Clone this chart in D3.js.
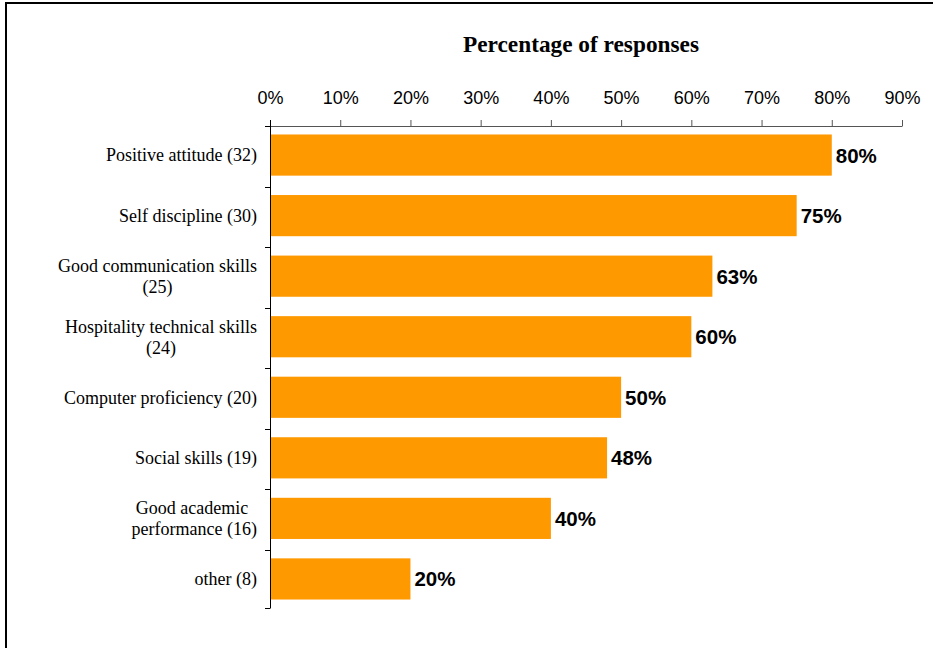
<!DOCTYPE html>
<html>
<head>
<meta charset="utf-8">
<script src="https://cdn.jsdelivr.net/npm/d3@7"></script>
<style>
  html, body { margin: 0; padding: 0; background: #fff; }
  svg { display: block; }
</style>
</head>
<body>
<svg id="chart" width="933" height="648"></svg>
<script>
// Survey categories (line breaks mark where the label wraps)
const categories = [
  "Positive attitude (32)",
  "Self discipline (30)",
  "Good communication skills\n(25)",
  "Hospitality technical skills\n(24)",
  "Computer proficiency (20)",
  "Social skills (19)",
  "Good academic \nperformance (16)",
  "other (8)"
];
// Share of responses, in percent
const values = [80, 75, 63, 60, 50, 48, 40, 20];
// Axis tick values, in percent
const tickValues = [0, 10, 20, 30, 40, 50, 60, 70, 80, 90];
const titleText = "Percentage of responses";

const data = categories.map((c, i) => ({ label: c, value: values[i] }));

const svg = d3.select("#chart");
const margin = { left: 270, top: 126 };
const plotW = 902 - margin.left;
const plotH = 608 - margin.top;

// Frame around the chart area
svg.append("rect")
  .attr("x", 6).attr("y", 3)
  .attr("width", 930).attr("height", 660)
  .attr("fill", "none").attr("stroke", "#000").attr("stroke-width", 2);

const g = svg.append("g").attr("transform", `translate(${margin.left},${margin.top})`);

const x = d3.scaleLinear().domain([0, 90]).range([0, plotW]);
const y = d3.scaleBand().domain(categories).range([0, plotH])
  .paddingInner(0.32).paddingOuter(0.14);

// Title
svg.append("text")
  .attr("x", 581).attr("y", 52)
  .attr("text-anchor", "middle")
  .style("font-family", "'Liberation Serif', 'Times New Roman', serif")
  .style("font-weight", "bold")
  .style("font-size", "23.3px")
  .attr("fill", "#000")
  .text(titleText);

// Top axis
const xAxis = g.append("g")
  .call(d3.axisTop(x).tickValues(tickValues).tickFormat(d => d + "%").tickSize(6).tickSizeOuter(0).tickPadding(16));
xAxis.select(".domain").attr("stroke", "#555").attr("stroke-width", 1);
xAxis.selectAll(".tick line").attr("stroke", "#555");
xAxis.selectAll(".tick text")
  .style("font-family", "'Liberation Sans', Arial, sans-serif")
  .style("font-size", "18px")
  .attr("fill", "#000");

// Vertical category axis with ticks on band boundaries
const stepY = y.step();
const edgeY = categories.map((c, i) => i * stepY);
edgeY.push(plotH);
g.append("line")
  .attr("x1", 0.5).attr("x2", 0.5).attr("y1", -6).attr("y2", plotH)
  .attr("stroke", "#000").attr("stroke-width", 1);
g.selectAll(".ytick").data(edgeY).join("line")
  .attr("class", "ytick")
  .attr("x1", -5).attr("x2", 0.5)
  .attr("y1", d => Math.round(d) + 0.5).attr("y2", d => Math.round(d) + 0.5)
  .attr("stroke", "#000").attr("stroke-width", 1);

// Bars
g.selectAll(".bar").data(data).join("rect")
  .attr("class", "bar")
  .attr("x", 1)
  .attr("y", d => y(d.label))
  .attr("width", d => x(d.value) - 1)
  .attr("height", y.bandwidth())
  .attr("fill", "#FF9900");

// Value labels
g.selectAll(".val").data(data).join("text")
  .attr("class", "val")
  .attr("x", d => x(d.value) + 4)
  .attr("y", d => y(d.label) + y.bandwidth() / 2 + 7.5)
  .style("font-family", "'Liberation Sans', Arial, sans-serif")
  .style("font-weight", "bold")
  .style("font-size", "20.5px")
  .attr("fill", "#000")
  .text(d => d.value + "%");

// Category labels: centred lines inside a right-aligned block
const lineH = 21;
const labels = g.selectAll(".cat").data(data).join("text")
  .attr("class", "cat")
  .style("font-family", "'Liberation Serif', 'Times New Roman', serif")
  .style("font-size", "18px")
  .style("white-space", "pre")
  .attr("fill", "#000")
  .attr("text-anchor", "middle");

labels.each(function(d) {
  const t = d3.select(this);
  const lines = d.label.split("\n");
  const cy = y(d.label) + y.bandwidth() / 2;
  const spans = lines.map((ln, i) => t.append("tspan")
    .attr("y", cy + 6.3 + (i - (lines.length - 1) / 2) * lineH)
    .text(ln));
  let maxW = 0;
  spans.forEach(s => { maxW = Math.max(maxW, s.node().getComputedTextLength()); });
  const cx = -13 - maxW / 2;
  spans.forEach(s => s.attr("x", cx));
});
</script>
</body>
</html>
